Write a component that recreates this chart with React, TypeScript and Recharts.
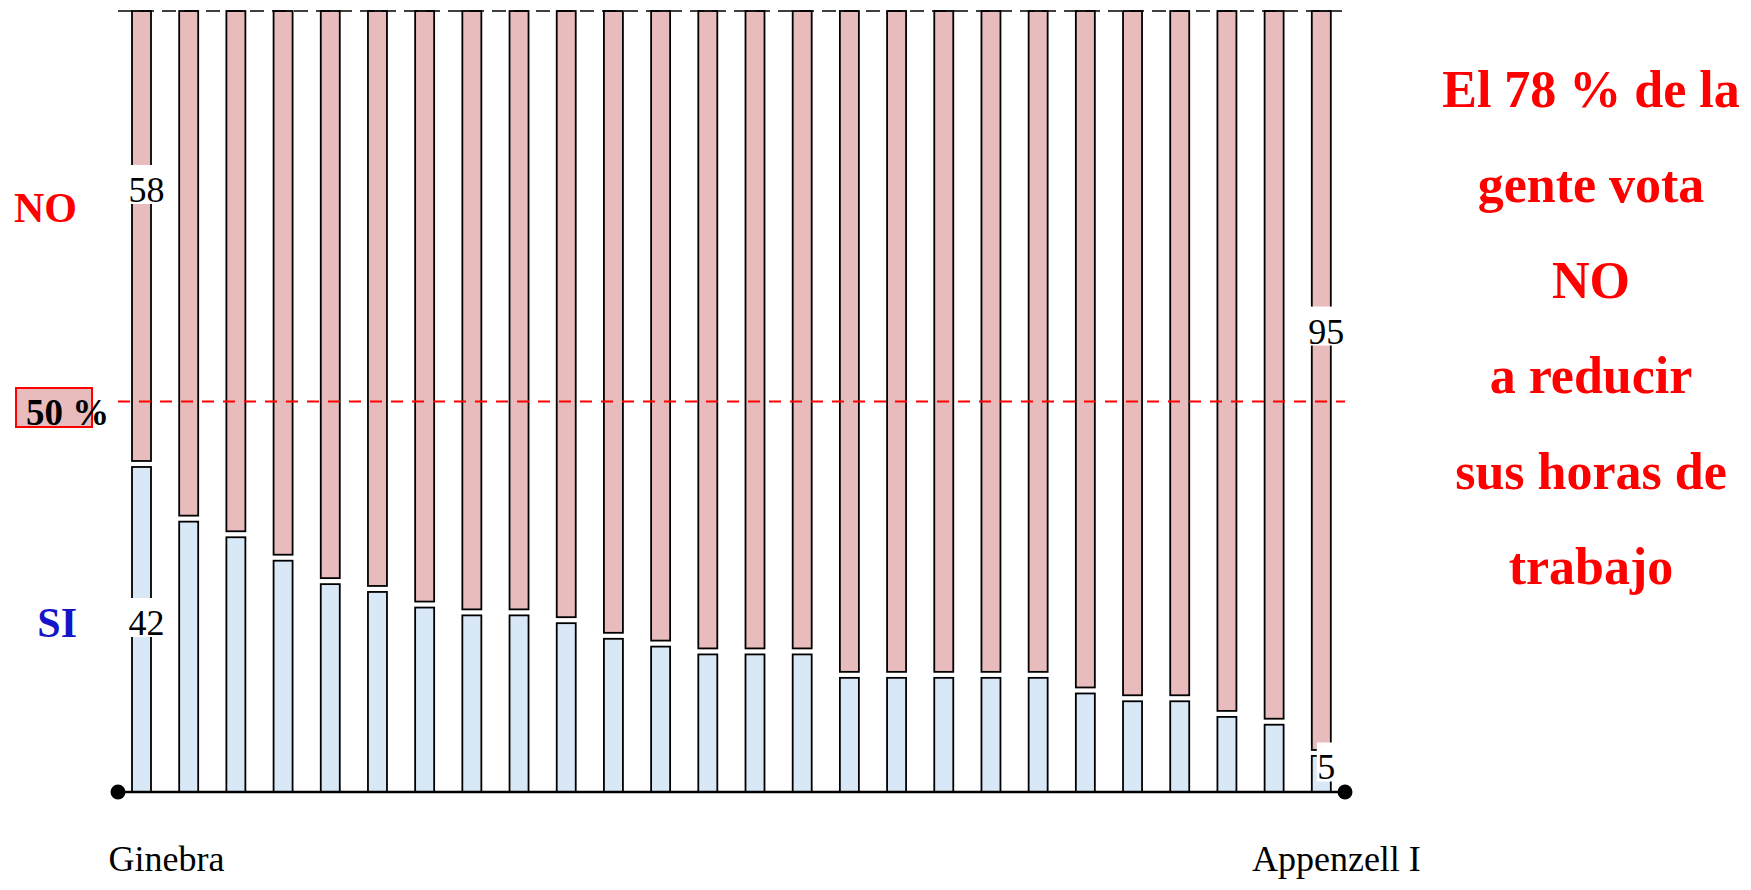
import React from "react";
import { ComposedChart, Bar, XAxis, YAxis, ReferenceLine, LabelList } from "recharts";

const cantons = [
  "Ginebra", "Jura", "Neuchâtel", "Tesino", "Vaud", "Basilea-Ciudad", "Friburgo",
  "Valais", "Berna", "Zúrich", "Soleura", "Basilea-Campiña", "Schaffhausen",
  "Lucerna", "Argovia", "Zug", "Turgovia", "San Galo", "Glaris", "Grisones",
  "Obwalden", "Nidwalden", "Uri", "Schwyz", "Appenzell E", "Appenzell I",
];
const siValues = [42, 35, 33, 30, 27, 26, 24, 23, 23, 22, 20, 19, 18, 18, 18, 15, 15, 15, 15, 15, 13, 12, 12, 10, 9, 5];
const noValues = [58, 65, 67, 70, 73, 74, 76, 77, 77, 78, 80, 81, 82, 82, 82, 85, 85, 85, 85, 85, 87, 88, 88, 90, 91, 95];
const messageLines = ["El 78 % de la", "gente vota", "NO", "a reducir", "sus horas de", "trabajo"];

const data = cantons.map((name, i) => ({ name, si: siValues[i], no: noValues[i] }));

const W = 1735;
const H = 874;
const margin = { top: 3, right: 398, bottom: 30, left: 110 };
const FONT = '"Liberation Serif", "Times New Roman", serif';
const PINK = "#e8bcbd";
const BLUE = "#d9e8f7";
const LAST = cantons.length - 1;
const halfBand = (W - margin.left - margin.right) / cantons.length / 2;

const SiShape = (p: any) => (
  <rect x={p.x} y={p.y + 3} width={p.width} height={Math.max(0, p.height - 3)}
    fill={BLUE} stroke="#000" strokeWidth={1.8} />
);
const NoShape = (p: any) => (
  <rect x={p.x} y={p.y} width={p.width} height={Math.max(0, p.height - 3)}
    fill={PINK} stroke="#000" strokeWidth={1.8} />
);

// label centre = a fraction of the segment, shifted by `shift` px
const makeLabel = (frac: number, shift: number) => (props: any) => {
  const vb = props.viewBox ?? props;
  const x = vb.x ?? props.x, y = vb.y ?? props.y;
  const width = vb.width ?? props.width, height = vb.height ?? props.height;
  const { value, index } = props;
  if (index !== 0 && index !== LAST) return null;
  const cx = x + width / 2 + 5;
  const cy = y + height * frac + shift;
  const text = String(value);
  const w = text.length * 18 + 1;
  return (
    <g>
      <rect x={cx - w / 2} y={cy - 20} width={w} height={39} fill="#fff" />
      <text x={cx} y={cy + 17} textAnchor="middle" fontSize={36} fontFamily={FONT} fill="#000">
        {text}
      </text>
    </g>
  );
};

const EdgeTick = (props: any) => {
  const { x, y, payload } = props;
  const first = payload.value === cantons[0];
  const last = payload.value === cantons[LAST];
  if (!first && !last) return null;
  return (
    <g>
      <circle cx={first ? x - halfBand : x + halfBand} cy={y} r={7.5} fill="#000" />
      <text x={x + (first ? 25 : 15)} y={y + 79} textAnchor="middle" fontSize={36}
        fontFamily={FONT} fill="#000">
        {payload.value}
      </text>
    </g>
  );
};

export default function App() {
  return (
    <div style={{ position: "relative", width: W, height: H }}>
      <ComposedChart width={W} height={H} data={data} margin={margin}>
        <XAxis dataKey="name" interval={0} tickSize={0} tickMargin={0} height={60}
          axisLine={{ stroke: "#000", strokeWidth: 2.5 }} tickLine={false} tick={<EdgeTick />} />
        <YAxis hide domain={[0, 100]} />
        <ReferenceLine y={50} stroke="#ff0000" strokeWidth={1.8} strokeDasharray="12 9" />
        <ReferenceLine y={100} stroke="#000" strokeWidth={1.5} strokeDasharray="14 8" />
        <Bar dataKey="si" stackId="a" barSize={19} shape={<SiShape />} isAnimationActive={false}>
          <LabelList dataKey="si" content={makeLabel(0.5, -10)} />
        </Bar>
        <Bar dataKey="no" stackId="a" barSize={19} shape={<NoShape />} isAnimationActive={false}>
          <LabelList dataKey="no" content={makeLabel(0.49, -48)} />
        </Bar>
      </ComposedChart>
      <svg width={W} height={H} style={{ position: "absolute", left: 0, top: 0, pointerEvents: "none" }}>
        <text x={69} y={214} textAnchor="end" fontSize={42} fontWeight="bold" fontFamily={FONT} fill="#ff0000">NO</text>
        <text x={69} y={629} textAnchor="end" fontSize={42} fontWeight="bold" fontFamily={FONT} fill="#1414c8">SI</text>
        <rect x={8} y={380} width={76} height={39} fill={PINK} stroke="#ff0000" strokeWidth={2} />
        <text x={18} y={417} fontSize={37} fontWeight="bold" fontFamily={FONT} fill="#000">50 %</text>
        {messageLines.map((line, i) => (
          <text key={line} x={1583} y={99 + i * 95.4} textAnchor="middle" fontSize={52}
            fontWeight="bold" fontFamily={FONT} fill="#ff0000">
            {line}
          </text>
        ))}
      </svg>
    </div>
  );
}
